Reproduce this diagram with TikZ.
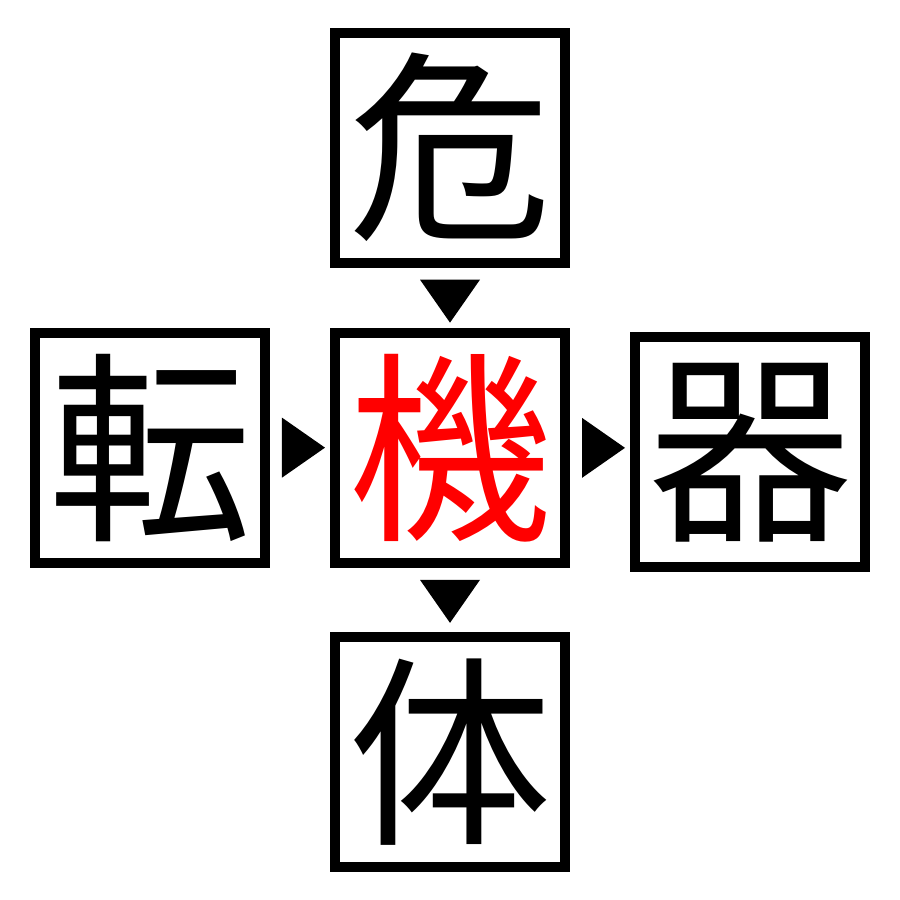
\documentclass[tikz,border=0pt]{standalone}
\usepackage{fontspec}
\newfontfamily\jp{Noto Sans CJK JP}
\usetikzlibrary{matrix,calc,positioning}

\begin{document}
\begin{tikzpicture}[ampersand replacement=\&]
    \useasboundingbox (0,0) rectangle (9,9);
    \matrix(m) at (4.5,4.5) [matrix of nodes,row sep=0.6cm,column sep=0.6cm,
      nodes={draw,line width=0.1cm,minimum size=2.3cm,inner sep=0pt,outer sep=0pt,
        font=\jp\fontsize{58}{58}\selectfont}]{
      \& 危 \& \\
      転 \& |[text=red]|機 \& 器\\
      \& 体 \& \\
    };
    \fill (m-1-2.south) ++(-0.3,-0.17) -- ++(0.6,0) -- ++(-0.3,-0.43) -- cycle;
    \fill (m-2-1.east) ++(0.17,0.3) -- ++(0,-0.6) -- ++(0.43,0.3) -- cycle;
    \fill (m-2-2.east) ++(0.17,0.3) -- ++(0,-0.6) -- ++(0.43,0.3) -- cycle;
    \fill (m-2-2.south) ++(-0.3,-0.17) -- ++(0.6,0) -- ++(-0.3,-0.43) -- cycle;
  \end{tikzpicture}
\end{document}
